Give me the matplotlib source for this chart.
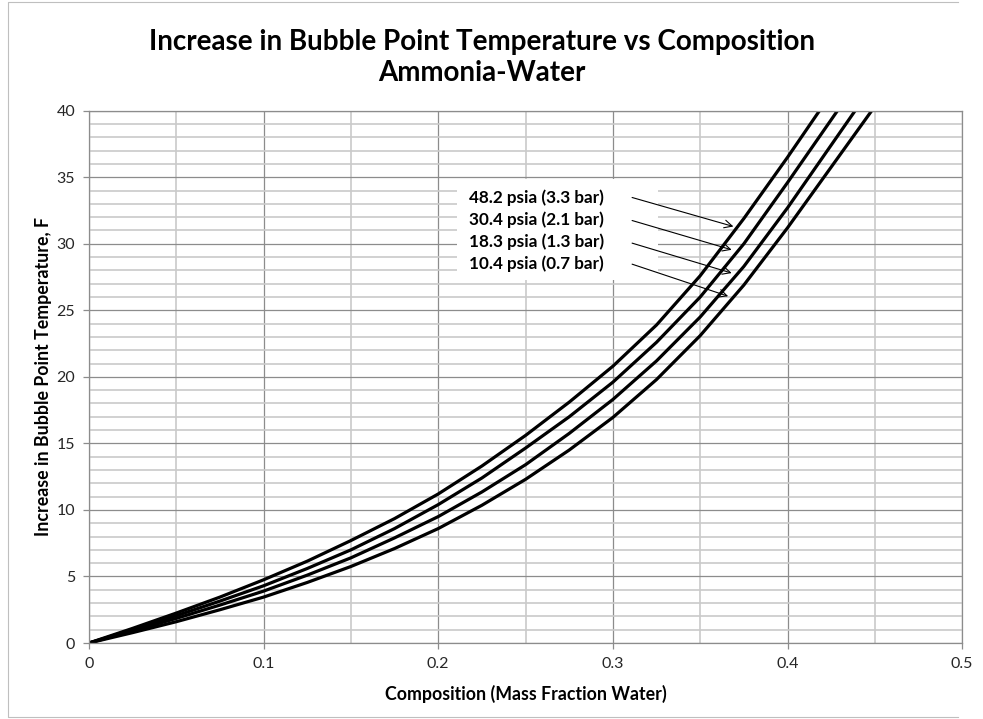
import matplotlib
matplotlib.use('Agg')
import matplotlib.pyplot as plt
from matplotlib.patches import Rectangle
from matplotlib.lines import Line2D
from matplotlib.ticker import MultipleLocator, FuncFormatter

plt.rcParams['font.family'] = ['Lato', 'DejaVu Sans']

# mass fraction water (shared points), temperature rise in F per pressure
x_comp = [0, 0.025, 0.05, 0.075, 0.1, 0.125, 0.15, 0.175, 0.2,
          0.225, 0.25, 0.275, 0.3, 0.325, 0.35, 0.375, 0.4]
t_482 = [0, 1.1, 2.25, 3.45, 4.75, 6.15, 7.7, 9.35, 11.2,
         13.3, 15.6, 18.1, 20.8, 23.9, 27.6, 31.9, 36.5]
t_304 = [0, 1.0, 2.05, 3.15, 4.3, 5.6, 7.0, 8.6, 10.4,
         12.4, 14.65, 17.0, 19.6, 22.6, 26.0, 30.0, 34.6]
t_183 = [0, 0.9, 1.85, 2.85, 3.9, 5.1, 6.4, 7.9, 9.5,
         11.35, 13.4, 15.75, 18.3, 21.2, 24.5, 28.3, 32.7]
t_104 = [0, 0.78, 1.6, 2.5, 3.45, 4.55, 5.75, 7.1, 8.6,
         10.35, 12.3, 14.5, 16.95, 19.8, 23.1, 26.9, 31.2]
# where each curve reaches the top of the axis (40 F)
x_top = [0.4183, 0.4286, 0.4387, 0.4482]
t_top = 40

labels = ['48.2 psia (3.3 bar)', '30.4 psia (2.1 bar)',
          '18.3 psia (1.3 bar)', '10.4 psia (0.7 bar)']
label_y = [33.44, 31.8, 30.17, 28.54]
arrow_tail = [(0.311, 33.48), (0.311, 31.75), (0.311, 30.05), (0.311, 28.47)]
arrow_head = [(0.369, 31.3), (0.368, 29.55), (0.368, 27.8), (0.366, 26.06)]

fig = plt.figure(figsize=(9.83, 7.19), dpi=100)
ax = fig.add_axes([0.0905, 0.1057, 0.8883, 0.7403])

series = [t_482, t_304, t_183, t_104]
for temps, xe in zip(series, x_top):
    ax.plot(x_comp + [xe], temps + [t_top], color='black', lw=2.3,
            solid_capstyle='butt', solid_joinstyle='round', zorder=2)

ax.set_xlim(0, 0.5)
ax.set_ylim(0, 40)
ax.xaxis.set_major_locator(MultipleLocator(0.1))
ax.xaxis.set_minor_locator(MultipleLocator(0.05))
ax.yaxis.set_major_locator(MultipleLocator(5))
ax.yaxis.set_minor_locator(MultipleLocator(1))
ax.xaxis.set_major_formatter(FuncFormatter(lambda v, p: f'{v:g}'))

ax.grid(which='major', color='#8c8c8c', lw=0.9)
ax.grid(which='minor', color='#cacaca', lw=1.2)
ax.set_axisbelow(True)
ax.tick_params(which='major', length=4, width=0.9, color='#8c8c8c',
               labelsize=11.5, pad=6, labelcolor='#262626')
ax.tick_params(which='minor', length=0)
for s in ax.spines.values():
    s.set_color('#8c8c8c')
    s.set_linewidth(0.9)

# white label block over the grid
ax.add_patch(Rectangle((0.211, 27.3), 0.115, 7.6, facecolor='white',
                       edgecolor='none', zorder=1))
for lab, ly in zip(labels, label_y):
    ax.text(0.2177, ly, lab, fontsize=12.3, fontweight='bold',
            va='center', ha='left', zorder=3)
for tail, head in zip(arrow_tail, arrow_head):
    ax.annotate('', xy=head, xytext=tail, zorder=3,
                arrowprops=dict(arrowstyle='->', lw=0.8, color='black',
                                mutation_scale=14, shrinkA=0, shrinkB=0))

ax.set_xlabel('Composition (Mass Fraction Water)', fontsize=12.8,
              fontweight='bold', labelpad=10)
ax.set_ylabel('Increase in Bubble Point Temperature, F', fontsize=12.8,
              fontweight='bold', labelpad=3)
fig.text(0.49, 0.92, 'Increase in Bubble Point Temperature vs Composition\nAmmonia-Water',
         ha='center', va='center', fontsize=20, fontweight='bold',
         linespacing=1.2)

# chart area border (left, top, bottom visible)
fig.add_artist(Line2D([0.975, 0.008, 0.008, 0.975], [0.997, 0.997, 0.003, 0.003],
                      transform=fig.transFigure, color='#bfbfbf', lw=0.8))

fig.savefig('out.png', dpi=100)
